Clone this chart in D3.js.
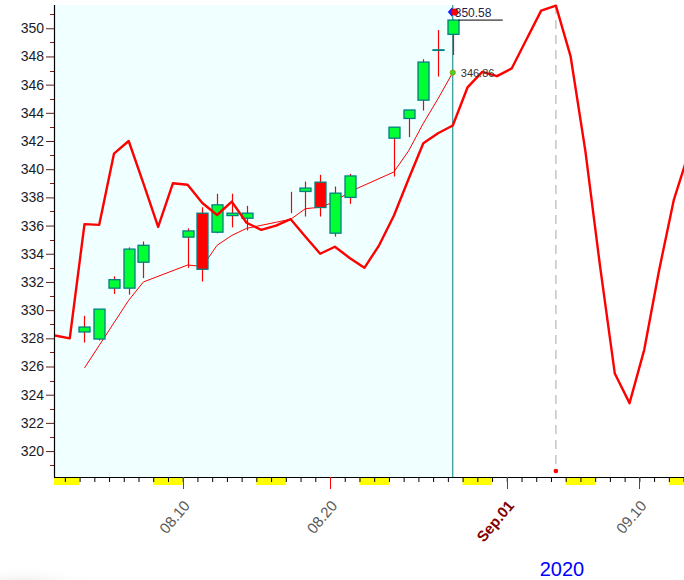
<!DOCTYPE html>
<html>
<head>
<meta charset="utf-8">
<script src="https://cdn.jsdelivr.net/npm/d3@7"></script>
<style>
  html, body { margin: 0; padding: 0; background: #fff; }
  svg { display: block; }
</style>
</head>
<body>
<svg id="chart" width="684" height="580"></svg>
<script>
// ---------------- DATA ----------------
const candleDates = ["2020-08-03","2020-08-04","2020-08-05","2020-08-06","2020-08-07",
  "2020-08-10","2020-08-11","2020-08-12","2020-08-13","2020-08-14",
  "2020-08-17","2020-08-18","2020-08-19","2020-08-20","2020-08-21",
  "2020-08-24","2020-08-25","2020-08-26","2020-08-27","2020-08-28"];
const openValues  = [328.45,327.95,331.56,331.56,333.40, 335.18,336.88,335.53,336.71,336.52, 337.50,338.42,339.08,335.46,338.00, 342.20,343.60,344.90,348.43,349.57];
const highValues  = [329.60,330.07,332.40,334.45,334.87, 335.80,337.30,338.26,338.26,337.40, 338.40,339.12,339.60,338.77,339.67, 342.98,344.20,347.80,349.88,350.64];
const lowValues   = [327.70,327.85,331.15,331.10,332.27, 333.00,332.03,335.45,335.87,335.65, 336.88,336.64,336.64,335.22,337.54, 339.48,342.27,344.16,346.57,348.10];
const closeValues = [328.80,330.07,332.16,334.33,334.60, 335.62,332.90,337.47,336.88,336.88, 337.50,338.66,337.28,338.30,339.52, 342.98,344.20,347.60,348.47,350.58];
const maValues    = [325.90,327.50,329.10,330.70,332.00, 333.20,333.10,334.60,335.30,335.80, 336.45,337.20,337.30,337.70,338.40, 339.80,341.30,343.25,345.00,346.86];

// daily cycle / forecast line, Aug 1 .. Sep 13
const cycleStart = "2020-08-01";
const cycleValues = [328.2,328.0,336.1,336.05,341.1,342.0,339.0,335.9,339.0,338.9,
  337.6,336.75,337.7,336.2,335.7,336.0,336.45,335.2,334.0,334.5,
  333.7,333.0,334.6,336.7,339.3,341.84,342.55,343.1,345.8,346.9,
  346.6,347.15,349.2,351.25,351.6,348.0,341.3,333.1,325.5,323.4,
  327.2,332.8,337.8,341.1];

const yTickValues = [320,322,324,326,328,330,332,334,336,338,340,342,344,346,348,350];
const xLabelDates = ["2020-08-10","2020-08-20","2020-09-01","2020-09-10"];
const xLabelTexts = ["08.10","08.20","Sep.01","09.10"];
const yearLabel = "2020";
const peakDate = "2020-09-04";

// ---------------- SETUP ----------------
const W = 684, H = 580;
const L = 54, T = 5, R = 684, B = 477;
const svg = d3.select("#chart");
const parse = s => { const [yy,mm,dd] = s.split("-").map(Number); return new Date(Date.UTC(yy, mm-1, dd)); };
const atPoint = d => d3.utcHour.offset(d, 8);

const x = d3.scaleUtc()
  .domain([new Date(Date.UTC(2020,7,1,6,19)), new Date(Date.UTC(2020,8,13,0,43))])
  .range([L, R]);
const y = d3.scaleLinear().domain([318.16, 351.65]).range([B, T]);

const defs = svg.append("defs");
defs.append("clipPath").attr("id","plotclip").append("rect")
  .attr("x", L).attr("y", T - 2).attr("width", R - L + 10).attr("height", B - T + 2);
const rg = defs.append("radialGradient").attr("id","shadow");
rg.append("stop").attr("offset","0%").attr("stop-color","#dcdcdc").attr("stop-opacity",0.9);
rg.append("stop").attr("offset","100%").attr("stop-color","#ffffff").attr("stop-opacity",0);

// faint shadow bottom-left
svg.append("ellipse").attr("cx", 22).attr("cy", 588).attr("rx", 75).attr("ry", 22)
  .attr("fill","url(#shadow)");

const candles = candleDates.map((s,i) => ({
  date: atPoint(parse(s)), o: openValues[i], h: highValues[i], l: lowValues[i], c: closeValues[i], ma: maValues[i]
}));
const lastCandle = candles[candles.length - 1];
const lastX = x(lastCandle.date);

const cycleDays = d3.utcDay.range(parse(cycleStart), d3.utcDay.offset(parse(cycleStart), cycleValues.length));
const cycle = cycleDays.map((d,i) => ({ date: atPoint(d), v: cycleValues[i] }));

// background of history region
svg.append("rect").attr("x", L).attr("y", T).attr("width", lastX - L).attr("height", B - T)
  .attr("fill", "#f0ffff");

// weekends (yellow below axis)
const allDays = d3.utcDay.range(d3.utcDay.floor(x.domain()[0]), d3.utcDay.offset(x.domain()[1], 1));
const weekendStarts = allDays.filter(d => d.getUTCDay() === 6);
svg.append("g").selectAll("rect").data(weekendStarts).join("rect")
  .attr("x", d => Math.max(L, x(d)))
  .attr("width", d => Math.min(R, x(d3.utcDay.offset(d, 2))) - Math.max(L, x(d)))
  .attr("y", B).attr("height", 8)
  .attr("fill", "#ffff00");

// ---------------- AXES ----------------
// Y axis
const yAxisG = svg.append("g").attr("transform", `translate(${L},0)`);
const minorY = d3.range(319, 352, 2);
yAxisG.selectAll("line.minor").data(minorY).join("line")
  .attr("class","minor").attr("x1", -4).attr("x2", 0)
  .attr("y1", d => Math.round(y(d)) + 0.5).attr("y2", d => Math.round(y(d)) + 0.5)
  .attr("stroke", "#8b1a1a").attr("stroke-width", 1);
const yAxis = d3.axisLeft(y).tickValues(yTickValues).tickSize(8).tickPadding(2).tickFormat(d3.format("d"));
yAxisG.call(yAxis);
yAxisG.select(".domain").remove();
yAxisG.selectAll(".tick line").attr("stroke", "#5a2020");
yAxisG.selectAll(".tick text")
  .attr("font-family", "Liberation Sans, Arial, sans-serif").attr("font-size", 14)
  .attr("fill", "#1a1a2a");
svg.append("line").attr("x1", L + 0.5).attr("x2", L + 0.5).attr("y1", T).attr("y2", B)
  .attr("stroke", "#000").attr("stroke-width", 1.2);

// X axis (daily ticks)
const xAxisG = svg.append("g").attr("transform", `translate(0,${B})`);
const dayTicks = allDays.filter(d => x(d) >= L && x(d) <= R);
const xAxis = d3.axisBottom(x).tickValues(dayTicks).tickSize(5).tickFormat("");
xAxisG.call(xAxis);
xAxisG.select(".domain").remove();
xAxisG.selectAll(".tick line").attr("stroke", "#000");
svg.append("line").attr("x1", L).attr("x2", R).attr("y1", B + 0.5).attr("y2", B + 0.5)
  .attr("stroke", "#000").attr("stroke-width", 1.2);

// labelled red ticks
const labelData = xLabelDates.map((s,i) => ({ date: parse(s), text: xLabelTexts[i], month: i === 2 }));
const lab = svg.append("g");
lab.selectAll("line").data(labelData).join("line")
  .attr("x1", d => Math.round(x(d.date)) + 0.5).attr("x2", d => Math.round(x(d.date)) + 0.5)
  .attr("y1", B).attr("y2", B + 12).attr("stroke", "#ff0000").attr("stroke-width", 1);
lab.selectAll("text").data(labelData).join("text")
  .attr("transform", d => `translate(${x(d.date) + 8},${B + 29}) rotate(-50)`)
  .attr("text-anchor", "end")
  .attr("font-family", "Liberation Sans, Arial, sans-serif")
  .attr("font-size", 15)
  .attr("font-weight", d => d.month ? "bold" : "normal")
  .attr("fill", d => d.month ? "#800000" : "#5a5a5a")
  .text(d => d.text);

svg.append("text").attr("x", 562).attr("y", 576).attr("text-anchor", "middle")
  .attr("font-family", "Liberation Sans, Arial, sans-serif").attr("font-size", 20)
  .attr("fill", "#0000ff").text(yearLabel);

// ---------------- MARKS ----------------
const plot = svg.append("g").attr("clip-path", "url(#plotclip)");

// vertical separator at last candle
plot.append("line").attr("x1", lastX).attr("x2", lastX).attr("y1", T).attr("y2", B)
  .attr("stroke", "#008080").attr("stroke-width", 1);

// dashed vertical at peak
const peakX = x(atPoint(parse(peakDate)));
plot.append("line").attr("x1", peakX).attr("x2", peakX).attr("y1", T).attr("y2", B - 6)
  .attr("stroke", "#bdbdbd").attr("stroke-width", 1.3).attr("stroke-dasharray", "9,6");
svg.append("circle").attr("cx", peakX).attr("cy", B - 6).attr("r", 2.3).attr("fill", "#ff0000");

// moving average thin line
plot.append("path").datum(candles)
  .attr("d", d3.line().x(d => x(d.date)).y(d => y(d.ma)))
  .attr("fill", "none").attr("stroke", "#ff0000").attr("stroke-width", 1);

// candles
const bw = 11;
const cg = plot.append("g");
cg.selectAll("line.wick").data(candles).join("line")
  .attr("class","wick")
  .attr("x1", d => Math.round(x(d.date)) + 0.5).attr("x2", d => Math.round(x(d.date)) + 0.5)
  .attr("y1", d => y(d.h)).attr("y2", d => y(d.l))
  .attr("stroke", "#ff0000").attr("stroke-width", 1.2);
cg.selectAll("rect.body").data(candles.filter(d => d.o !== d.c)).join("rect")
  .attr("class","body")
  .attr("x", d => Math.round(x(d.date)) - bw/2 + 0.5)
  .attr("width", bw)
  .attr("y", d => y(Math.max(d.o, d.c)))
  .attr("height", d => Math.max(0.5, Math.abs(y(d.o) - y(d.c))))
  .attr("fill", d => d.c >= d.o ? "#00ff33" : "#ff0000")
  .attr("stroke", "#008080").attr("stroke-width", 1.3);

// cycle thick line
plot.append("path").datum(cycle)
  .attr("d", d3.line().x(d => x(d.date)).y(d => y(d.v)))
  .attr("fill", "none").attr("stroke", "#ff0000").attr("stroke-width", 2.4)
  .attr("stroke-linejoin", "round");

// last close line and labels
svg.append("line").attr("x1", lastX + bw/2).attr("x2", lastX + 50)
  .attr("y1", y(lastCandle.c)).attr("y2", y(lastCandle.c))
  .attr("stroke", "#000").attr("stroke-width", 1);
svg.append("path")
  .attr("d", `M${lastX-5},12 L${lastX-1},7.5 L${lastX+3},12 L${lastX-1},16.5 Z`)
  .attr("fill", "#1a1aff");
svg.append("circle").attr("cx", lastX + 2).attr("cy", 12).attr("r", 3.6).attr("fill", "#ff0000");
svg.append("text").attr("x", lastX + 2).attr("y", 16.5)
  .attr("font-family", "Liberation Sans, Arial, sans-serif").attr("font-size", 12)
  .attr("fill", "#1e1e46").text(d3.format(".2f")(lastCandle.c));

svg.append("circle").attr("cx", lastX).attr("cy", y(lastCandle.ma)).attr("r", 2.6)
  .attr("fill", "#33dd33").attr("stroke", "#999900").attr("stroke-width", 1);
svg.append("text").attr("x", lastX + 8).attr("y", y(lastCandle.ma) + 4)
  .attr("font-family", "Liberation Sans, Arial, sans-serif").attr("font-size", 11)
  .attr("fill", "#333").text(d3.format(".2f")(lastCandle.ma));
</script>
</body>
</html>
